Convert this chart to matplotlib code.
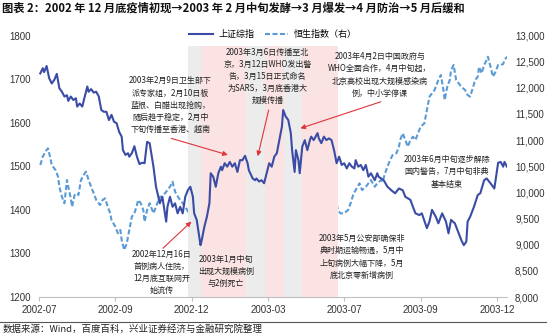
import numpy as np
import matplotlib.pyplot as plt
from matplotlib.lines import Line2D
from matplotlib.ticker import FuncFormatter

# trading-day index (x) and closing levels
sh_idx = [1, 3, 4, 6, 8, 10, 12, 14, 16, 18, 20, 22, 23, 25, 27, 29, 30, 32, 34, 36,
          38, 39, 41, 43, 45, 47, 49, 51, 53, 55, 57, 59, 61, 63, 65, 66, 68, 70, 71, 73,
          75, 77, 79, 81, 83, 85, 87, 90, 92, 95, 97, 100, 101, 103, 105, 107, 109, 111, 113, 115,
          117, 119, 121, 122, 124, 126, 127, 128, 130, 132, 134, 135, 137, 139, 141, 143, 144, 146, 148, 150,
          152, 154, 156, 158, 160, 162, 164, 165, 168, 170, 171, 173, 175, 177, 179, 181, 183, 185, 187, 189,
          191, 192, 194, 196, 198, 199, 201, 202, 204, 205, 207, 209, 211, 213, 214, 216, 219, 220, 222, 224,
          226, 228, 230, 232, 234, 236, 238, 240, 242, 244, 246, 248, 249, 251, 253, 255, 257, 259, 261, 264,
          266, 267, 271, 274, 277, 280, 283, 286, 288, 292, 294, 296, 299, 301, 305, 307, 309, 312, 314, 317,
          320, 322, 324, 327, 330, 332, 334, 336, 337, 339, 342, 345, 347, 350, 352, 355, 358, 359, 361, 363,
          365, 366, 368]
sh_val = [1713, 1725, 1716, 1730, 1702, 1690, 1698, 1712, 1679, 1671, 1660, 1663, 1650, 1660, 1652, 1656, 1637, 1644, 1637, 1660,
          1683, 1671, 1677, 1669, 1671, 1660, 1629, 1625, 1625, 1606, 1618, 1602, 1599, 1579, 1568, 1537, 1526, 1530, 1522, 1530,
          1546, 1522, 1505, 1508, 1507, 1556, 1553, 1499, 1453, 1415, 1430, 1373, 1407, 1430, 1407, 1415, 1392, 1407, 1392, 1430,
          1445, 1453, 1430, 1392, 1377, 1338, 1319, 1331, 1361, 1384, 1415, 1484, 1476, 1453, 1484, 1499, 1491, 1507, 1499, 1510,
          1499, 1507, 1487, 1514, 1514, 1524, 1507, 1491, 1472, 1468, 1472, 1465, 1468, 1461, 1484, 1507, 1499, 1522, 1530, 1560,
          1591, 1629, 1614, 1606, 1576, 1537, 1487, 1537, 1514, 1484, 1545, 1560, 1537, 1560, 1568, 1560, 1576, 1564, 1553, 1568,
          1560, 1564, 1560, 1537, 1507, 1522, 1503, 1507, 1495, 1507, 1499, 1495, 1514, 1499, 1503, 1491, 1503, 1476, 1484, 1468,
          1484, 1476, 1468, 1453, 1445, 1438, 1449, 1445, 1430, 1423, 1407, 1392, 1388, 1392, 1358, 1373, 1400, 1384, 1369, 1392,
          1373, 1346, 1377, 1369, 1346, 1331, 1319, 1327, 1373, 1384, 1407, 1434, 1438, 1468, 1472, 1461, 1449, 1468, 1508, 1510,
          1499, 1510, 1499]

hs_idx = [1, 3, 5, 7, 9, 10, 13, 15, 16, 18, 20, 22, 23, 25, 26, 28, 30, 31, 33, 36,
          37, 39, 41, 43, 45, 48, 50, 52, 54, 56, 57, 60, 62, 64, 65, 67, 69, 71, 73, 75,
          77, 78, 80, 82, 83, 85, 87, 90, 92, 95, 97, 100, 103, 105, 107, 110, 113, 115, 118, 121,
          123, 126, 128, 131, 133, 134, 136, 139, 141, 144, 147, 149, 152, 155, 157, 160, 162, 165, 168, 170,
          173, 175, 178, 180, 183, 185, 186, 189, 192, 194, 197, 200, 202, 204, 206, 209, 211, 214, 216, 219,
          222, 224, 227, 229, 231, 233, 235, 237, 240, 243, 245, 247, 249, 252, 254, 257, 260, 261, 264, 266,
          269, 270, 273, 275, 278, 281, 283, 284, 286, 288, 290, 292, 294, 296, 298, 300, 303, 305, 307, 309,
          311, 312, 314, 316, 318, 319, 321, 323, 324, 326, 328, 330, 332, 335, 337, 339, 341, 343, 345, 346,
          348, 350, 352, 353, 355, 357, 359, 361, 363, 365, 366, 368]
hs_val = [10524, 10683, 10778, 10843, 10652, 10524, 10428, 10300, 10109, 9918, 9792, 10237, 10109, 9887, 9727, 9950, 9983, 9950, 10237, 10365,
          10396, 10237, 10109, 9983, 9855, 9759, 9855, 9887, 9727, 9600, 9472, 9344, 9218, 9281, 9090, 8899, 9027, 9281, 9535, 9600,
          9759, 9855, 9792, 9664, 9440, 9664, 9792, 9600, 9727, 9918, 9918, 10013, 10109, 10205, 10013, 9887, 9792, 9727, 9600, 9535,
          9664, 9535, 9600, 9631, 9792, 9855, 9600, 9409, 9344, 9314, 9281, 9218, 9344, 9153, 9090, 9218, 9090, 9027, 8962, 8836,
          9090, 8962, 8836, 8899, 8708, 8836, 8962, 8771, 8708, 8675, 8579, 8453, 8708, 9090, 9122, 9090, 9153, 9440, 9535, 9664,
          9696, 9727, 9792, 9918, 10013, 9918, 9664, 9600, 9600, 9664, 9792, 9950, 10046, 10174, 10046, 10109, 10205, 10237, 10109, 10174,
          10237, 10199, 10428, 10556, 10715, 10748, 10874, 11002, 11130, 11002, 10874, 11002, 11065, 11002, 11130, 11256, 11321, 11576, 11830, 11895,
          11958, 12021, 12149, 12245, 11958, 11767, 12021, 12149, 12340, 12436, 12149, 12086, 12021, 11958, 11862, 11830, 11990, 12149, 12212, 12403,
          12277, 12436, 12532, 12595, 12403, 12212, 12308, 12436, 12436, 12455, 12532, 12595]

tick_pos = [0, 60, 120, 180, 240, 300, 360]
tick_lbl = ['2002-07', '2002-09', '2002-12', '2003-03', '2003-07', '2003-09', '2003-12']

# phase shading (start, end, colour)
bands = [(117, 127, '#ececec'), (127, 163, '#fbe3e3'), (163, 178, '#ececec'),
         (178, 193, '#fbe3e3'), (193, 207, '#ececec'), (207, 235, '#fbe3e3')]

cjk = ['Noto Sans CJK SC', 'DejaVu Sans']
num = ['Liberation Sans', 'DejaVu Sans']
navy = '#3a4ca6'
sky = '#5b9bd5'
red = '#e0343c'

fig = plt.figure(figsize=(5.54, 3.35), dpi=100)
ax = fig.add_axes([0.0704, 0.1134, 0.8448, 0.7806])
ax2 = ax.twinx()

for a, b, c in bands:
    ax.axvspan(a, b, ymin=0, ymax=0.96, color=c, lw=0, zorder=0)

ax2.plot(hs_idx, hs_val, color=sky, lw=1.5, ls=(0, (2.4, 1.2)), zorder=2)
ax.plot(sh_idx, sh_val, color=navy, lw=1.5, zorder=3)
ax.set_zorder(ax2.get_zorder() + 1)
ax.patch.set_visible(False)

ax.set_xlim(0, 368)
ax.set_ylim(1200, 1800)
ax2.set_ylim(8000, 13000)
ax.set_yticks(range(1200, 1801, 100))
ax2.set_yticks(range(8000, 13001, 500))
ax2.yaxis.set_major_formatter(FuncFormatter(lambda v, p: f'{int(v):,}'))
ax.set_xticks(tick_pos)
ax.set_xticklabels(tick_lbl)

for a in (ax, ax2):
    for s in a.spines.values():
        s.set_visible(False)
ax.spines['bottom'].set_visible(True)
ax.spines['bottom'].set_color('#bfbfbf')
ax.tick_params(axis='x', length=3, color='#bfbfbf', pad=3, labelsize=7, labelcolor='#333333')
ax.tick_params(axis='y', length=0, pad=5.8, labelsize=7, labelcolor='#333333')
ax2.tick_params(axis='y', length=0, pad=5.8, labelsize=7, labelcolor='#333333')
for lab in ax.get_xticklabels() + ax.get_yticklabels() + ax2.get_yticklabels():
    lab.set_family(num)

handles = [Line2D([], [], color=navy, lw=1.5),
           Line2D([], [], color=sky, lw=1.5, ls=(0, (2.4, 1.2)))]
ax.legend(handles, ['上证综指', '恒生指数（右）'], loc='center', bbox_to_anchor=(0.5, 1.005),
          ncol=2, frameon=False, handlelength=2.6, columnspacing=1.2, handletextpad=0.6,
          prop={'family': cjk, 'size': 6.5})

notes = [
    ('2003年2月9日卫生部下\n派专家组，2月10日板\n蓝根、白醋出现抢购，\n随后趋于稳定，2月中\n下旬传播至香港、越南', 103.5, 1640),
    ('2003年3月6日传播至北\n京，3月12日WHO发出警\n告，3月15日正式命名\n为SARS，3月底香港大\n规模传播', 179.6, 1706),
    ('2003年4月2日中国政府与\nWHO全面合作，4月中旬起，\n北京高校出现大规模感染病\n例，中小学停课', 268, 1710),
    ('2002年12月16日\n首例病人住院，\n12月底互联网开\n始流传', 96.5, 1256),
    ('2003年1月中旬\n出现大规模病例\n与2例死亡', 147, 1258),
    ('2003年5月公安部确保非\n典时期运输畅通，5月中\n上旬病例大幅下降，5月\n底北京零新增病例', 253.7, 1292),
    ('2003年6月中旬逐步解除\n国内警告，7月中旬非典\n基本结束', 320.8, 1487),
]
for txt, x, y in notes:
    ax.text(x, y, txt, ha='center', va='center', multialignment='center',
            family=cjk, fontsize=5.8, color='#222222', linespacing=1.45, zorder=5)

arrows = [((104, 1564), (148.5, 1526)), ((180.6, 1629), (172, 1523)),
          ((268.8, 1648), (205.5, 1587)), ((97.5, 1312), (119.8, 1373))]
for (x0, y0), (x1, y1) in arrows:
    ax.annotate('', xy=(x1, y1), xytext=(x0, y0),
                arrowprops=dict(arrowstyle='-|>', color=red, lw=0.8, mutation_scale=7,
                                shrinkA=0, shrinkB=0), zorder=5)

fig.text(0.004, 0.975, '图表 2：2002 年 12 月底疫情初现→2003 年 2 月中旬发酵→3 月爆发→4 月防治→5 月后缓和',
         family=cjk, fontsize=8.1, fontweight='bold', color='#111111', va='center')
fig.add_artist(Line2D([0, 0.985], [0.039, 0.039], color='#555555', lw=0.8))
fig.text(0.004, 0.018, '数据来源：Wind，百度百科，兴业证券经济与金融研究院整理',
         family=cjk, fontsize=6.8, color='#222222', va='center')

fig.savefig('out.png', dpi=100)
